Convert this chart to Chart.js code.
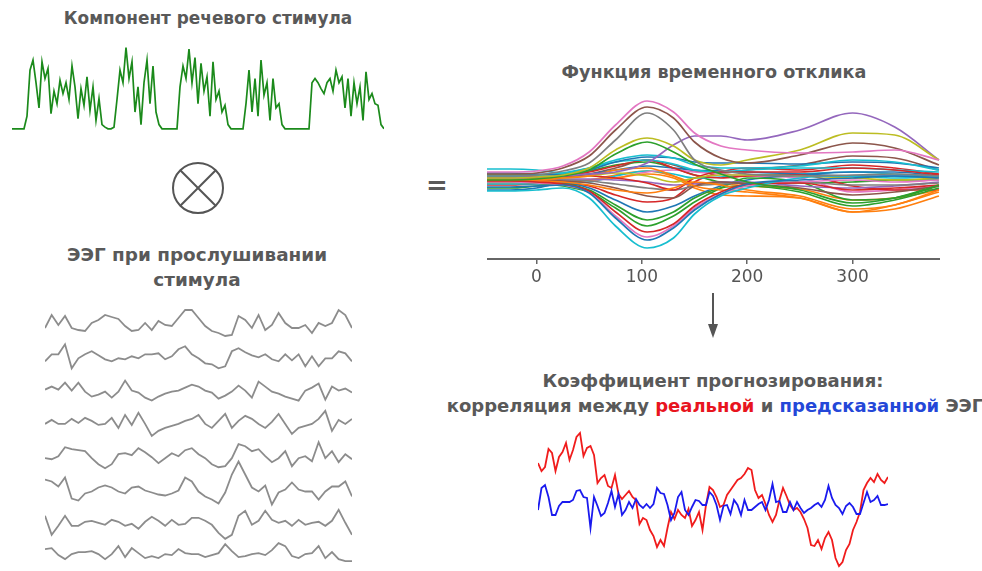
<!DOCTYPE html>
<html>
<head>
<meta charset="utf-8">
<script src="https://cdn.jsdelivr.net/npm/chart.js@4.4.1/dist/chart.umd.min.js"></script>
<style>
  html, body { margin: 0; padding: 0; background: #fff; }
  body { width: 982px; height: 571px; position: relative; overflow: hidden; font-family: "DejaVu Sans", sans-serif; }
  canvas { position: absolute; }
  .t { position: absolute; transform: translate(-50%, -50%); white-space: nowrap; font-weight: bold; color: #595959; font-size: 17.6px; }
  svg { position: absolute; }
</style>
</head>
<body>
<div class="t" style="left:208px;top:18px;font-size:16.9px">Компонент речевого стимула</div>
<div class="t" style="left:197px;top:254px;font-size:18.4px">ЭЭГ при прослушивании</div>
<div class="t" style="left:197px;top:279px;font-size:18.4px">стимула</div>
<div class="t" style="left:714px;top:72px">Функция временного отклика</div>
<div class="t" style="left:713px;top:380px;font-size:18px">Коэффициент прогнозирования:</div>
<div class="t" style="left:715px;top:405px;font-size:18px">корреляция между <span style="color:#e8141e">реальной</span> и <span style="color:#2447d8">предсказанной</span> ЭЭГ</div>
<div class="t" style="left:437px;top:185px;font-size:26px">=</div>

<svg style="left:170px;top:160px" width="56" height="56">
  <circle cx="28" cy="28" r="25" fill="none" stroke="#555" stroke-width="2"/>
  <line x1="10.3" y1="10.3" x2="45.7" y2="45.7" stroke="#555" stroke-width="2"/>
  <line x1="45.7" y1="10.3" x2="10.3" y2="45.7" stroke="#555" stroke-width="2"/>
</svg>
<svg style="left:703px;top:290px" width="20" height="52">
  <line x1="10" y1="3" x2="10" y2="38" stroke="#555" stroke-width="2"/>
  <polygon points="5,34 15,34 10,48" fill="#555"/>
</svg>

<canvas id="stim" width="372" height="88" style="left:12px;top:45px"></canvas>
<canvas id="eeg" width="307" height="276" style="left:45px;top:295px"></canvas>
<canvas id="trf" width="453" height="207" style="left:487px;top:93px"></canvas>
<canvas id="pred" width="350" height="146" style="left:538px;top:425px"></canvas>

<script>
// ---- speech envelope (normalised amplitude per sample) ----
const envelope = [0,0,0,0,0, 0.15,0.7,0.82,0.55,0.25, 0.8,0.6,0.72,0.18,0.45, 0.3,0.58,0.42,0.55,0.35,
  0.75,0.5,0.12,0.48,0.28, 0.62,0.22,0.5,0.1,0.36, 0.05,0.02, 0,0,0.02,
  0.35,0.7,0.55,0.97,0.6, 0.8,0.2,0.5,0.05,0.55, 0.82,0.3,0.75,0.2,0.05,
  0,0,0,0,0,0,
  0.5,0.75,0.6,0.95,0.55, 0.85,0.3,0.78,0.45,0.62, 0.15,0.8,0.35,0.45,0.2, 0.28,0.05,
  0,0,0,0,0,
  0.3,0.7,0.2,0.6,0.15, 0.82,0.4,0.55,0.1,0.6, 0.25,0.3,0.05,
  0,0,0,0,0,0,0,0,0,
  0.55,0.6,0.55,0.48,0.42, 0.55,0.6,0.45,0.7,0.55, 0.62,0.25,0.6,0.15,0.55,
  0.3,0.5,0.1,0.68,0.35, 0.42,0.3,0.28,0.05,0];

// ---- EEG channels (µV, one array per electrode) ----
const eeg1 = [-5,8,-2,7,-5,-7,-8,0,3,8,6,4,-3,-8,-7,0,-7,2,-2,-3,5,13,13,5,-3,-8,-10,-13,-12,7,3,-5,8,-7,-2,10,0,-5,-5,-2,-10,0,-3,0,13,8,-5];
const eeg2 = [-5,2,2,12,-12,-2,2,5,1,-3,-5,-2,-3,0,-2,2,2,3,-3,0,7,10,2,-2,-7,-8,-12,-10,5,8,4,1,-1,2,-3,-5,2,-4,2,-10,0,-10,-2,-2,5,3,-5];
const eeg3 = [0,3,0,7,-1,7,-2,-7,-5,-2,-8,-2,9,-1,-3,-8,-11,-7,-4,-2,-1,2,5,3,-1,-3,-9,-6,-2,4,-1,-8,8,3,-2,-4,-7,-9,-11,-1,2,6,-10,3,-1,1,-3];
const eeg4 = [-1,3,-1,-1,4,0,5,2,-2,-1,5,-5,8,-2,10,-1,-13,-8,-5,-3,-1,2,4,8,-1,-5,2,9,-5,2,7,4,-1,-5,1,9,-1,-11,-5,-3,-1,4,12,-8,3,-1,4];
const eeg5 = [-2,-3,0,9,7,6,5,-2,-8,-12,-8,2,3,1,8,4,-1,-7,-2,3,0,6,8,2,-2,-8,-11,-10,-2,12,10,5,7,0,-6,-2,5,-10,-2,0,-5,14,-2,5,-6,2,-3];
const eeg6 = [10,8,3,12,-9,-11,-4,-2,2,4,2,-2,-4,2,3,-1,-3,-5,-6,-4,-1,12,8,-2,-7,-10,-14,-3,15,28,15,2,-2,4,-15,-3,0,7,0,-2,-2,-10,-2,3,3,8,-7];
const eeg7 = [7,-12,-3,7,-3,-3,1,2,0,-2,3,1,-3,-1,-6,1,6,2,-3,3,-2,-1,5,5,2,-2,-10,-16,-12,7,12,-2,2,12,3,0,2,-3,3,-2,0,1,-3,2,13,0,-12];
const eeg8 = [7,8,1,-3,2,4,4,5,2,-3,2,10,-1,8,3,-2,0,-2,2,1,7,3,2,2,-1,1,3,12,5,-1,0,2,3,1,6,13,10,0,-2,2,3,10,-2,4,-3,-5,-5];
const eegChannels = [eeg1, eeg2, eeg3, eeg4, eeg5, eeg6, eeg7, eeg8];

// ---- temporal response function: lags (ms) and weights per channel ----
const trfLags = [-47,-25,0,25,50,75,105,130,150,175,200,250,300,340,382];
const trfTicks = [0,100,200,300];
const ch01 = [0.8,0.8,0.9,1.4,2.8,5.5,7.9,6.8,4.7,3.4,3.0,2.7,2.8,3.0,2.0];
const ch02 = [0.6,0.6,0.7,1.2,2.4,5.0,7.3,6.2,3.8,2.2,1.7,2.5,3.7,3.2,1.5];
const ch03 = [0.4,0.4,0.5,0.9,1.7,4.0,6.7,5.0,2.0,1.0,0.6,0.4,0.5,0.6,0.4];
const ch04 = [0.2,0.2,0.3,0.5,1.2,3.0,4.2,3.4,2.0,1.5,2.0,3.0,4.7,4.5,2.0];
const ch05 = [0,0,0.1,0.4,1.0,2.6,3.8,2.8,1.6,0.6,-0.2,-1.0,-2.3,-1.8,-0.5];
const ch06 = [0.2,0.2,0.3,0.4,0.6,0.8,1.7,3.5,4.4,4.4,4.0,5.0,6.7,5.3,2.0];
const ch07 = [-0.7,-0.7,-0.6,-0.5,-1.3,-3.8,-6.0,-4.8,-3.0,-1.4,-0.4,0,0.2,0.4,0.2];
const ch08 = [-1.1,-1.1,-1.0,-0.8,-1.8,-4.6,-6.8,-5.8,-3.4,-1.6,-0.8,0.2,0.4,0.2,0.4];
const ch09 = [-0.1,-0.1,-0.2,-0.4,-1.1,-3.2,-5.2,-4.4,-2.6,-1.2,-0.4,-0.3,-1.0,-0.8,-0.5];
const ch10 = [-0.2,-0.2,-0.3,-0.5,-1.2,-3.6,-5.7,-4.6,-2.8,-1.4,-0.6,-0.2,0,-0.2,0];
const ch11 = [0,0,0,0.2,0.4,1.0,1.2,0.4,-0.6,-1.0,-1.2,-1.8,-3.2,-2.5,-1.2];
const ch12 = [-0.1,-0.1,-0.1,-0.2,-0.5,-1.0,-1.3,-0.8,-0.2,-0.5,-1.0,-1.6,-2.9,-2.5,-1.0];
const ch13 = [0.1,0.1,0.1,0.2,0.4,0.7,0.4,-0.2,0.2,0.5,0.5,0.4,0.2,0,0.2];
const ch14 = [-0.8,-0.8,-0.6,-0.4,-1.0,-2.5,-4.0,-3.2,-1.8,-0.8,-0.6,-1.2,-2.6,-2.0,-0.8];
const ch15 = [1.1,1.1,1.0,0.7,1.2,2.0,2.5,2.2,1.5,1.2,1.2,1.4,2.0,1.8,1.0];
const ch16 = [0.7,0.7,0.6,0.5,1.0,1.8,2.3,2.2,1.8,1.7,1.7,1.6,1.8,1.7,1.2];
const ch17 = [0.1,0.1,0.2,0.3,0.4,0.2,-0.3,-1.0,0.2,0.8,0.8,0.8,1.2,1.0,0.5];
const ch18 = [0,0,0,-0.1,-0.3,-0.8,-1.6,-1.8,-0.6,-0.2,-0.4,-0.8,-1.5,-1.2,-0.6];
const ch19 = [0,0,0,0,-0.1,-0.4,-0.8,-1.0,-0.6,-0.4,-0.3,-0.2,-0.5,-0.5,-0.3];
const ch20 = [0.1,0.1,0.1,0.1,0.1,0,-0.2,-0.5,-0.4,-0.2,-0.2,-0.6,-0.8,-0.6,-0.2];
const ch21 = [0.4,0.4,0.5,0.7,1.2,1.8,2.0,1.6,1.0,0.8,1.0,1.2,1.2,1.0,0.8];
const ch22 = [-0.2,-0.2,-0.3,-0.6,-1.2,-2.8,-4.6,-3.6,-2.2,-0.8,0.2,-0.2,-2.0,-1.8,-0.6];
const ch23 = [0.2,0.2,0.3,0.4,0.8,1.4,2.0,1.2,0.5,0.2,0.4,0.5,-0.6,-1.0,-1.0];
const ch24 = [-1.0,-1.0,-0.8,-0.3,-0.8,-2.0,-3.2,-2.6,-1.6,-0.6,0,0.5,0.8,0.8,0.4];
const ch25 = [-0.2,-0.2,-0.2,-0.2,0,0.2,0.6,0.2,-0.8,-1.5,-1.6,-1.8,-3.2,-2.9,-1.6];
const ch26 = [0,0,0,0,0,0.2,0.8,1.0,0.8,0.6,0.4,0.2,-1.2,-1.0,-0.6];
const ch27 = [0.3,0.3,0.3,0.4,0.6,1.0,1.4,1.2,1.0,0.9,0.8,0.6,0.4,0.4,0.3];
const ch28 = [-0.4,-0.4,-0.4,-0.3,-0.2,0.4,0.9,0.6,0.2,0.3,0.5,0.6,0.8,0.6,0.3];
const ch29 = [0.5,0.5,0.5,0.6,0.9,1.5,1.8,1.2,0.5,-0.2,-0.3,-0.3,-0.2,0,0];
const ch30 = [-0.5,-0.5,-0.4,-0.4,-0.6,-1.5,-2.2,-1.8,-0.2,0.8,1.2,1.0,1.5,1.2,0.6];
const ch31 = [0.2,0.2,0.2,0.3,0.6,1.2,2.0,1.5,0.9,0.7,1.0,1.5,2.4,2.2,1.0];
const ch32 = [-0.3,-0.3,-0.3,-0.2,0,0.5,0.9,0.4,-0.3,-0.4,-0.6,-0.9,-2.0,-1.8,-1.0];
const trfChannels = [ch01,ch02,ch03,ch04,ch05,ch06,ch07,ch08,ch09,ch10,ch11,ch12,ch13,ch14,ch15,ch16,
                     ch17,ch18,ch19,ch20,ch21,ch22,ch23,ch24,ch25,ch26,ch27,ch28,ch29,ch30,ch31,ch32];
const trfColors = ['#e377c2','#8c564b','#7f7f7f','#bcbd22','#2ca02c','#9467bd','#1f77b4','#17becf',
                   '#d62728','#e377c2','#ff7f0e','#ff7f0e','#bcbd22','#2ca02c','#17becf','#1f77b4',
                   '#d62728','#8c564b','#7f7f7f','#9467bd','#17becf','#2ca02c','#d62728','#1f77b4',
                   '#ff7f0e','#e377c2','#1f77b4','#17becf','#2ca02c','#d62728','#8c564b','#ff7f0e'];

// ---- recorded vs. predicted EEG ----
const realEEG = [42,34,38,56,52,34,48,53,62,45, 55,68,72,49,57,59,50,22,27,30,
  19,17,30,11,6,10,14,8,5,-19, -13,-15,-25,-31,-42,-35,-41,-23,-7,-14,
  -5,-10,-13,-4,-21,-15,-7,-25,0,18, 15,8,-2,0,10,15,20,25,27,31,
  37,35,15,7,10,1,-10,-17,-10,5, 17,9,0,-5,-3,-7,-14,-23,-40,-41,
  -35,-44,-33,-27,-35,-53,-61,-57,-45,-39, -25,-17,-7,15,22,27,23,31,25,22, 28];
const predictedEEG = [-5,17,20,8,-10,-10,-1,3,3,3, 5,14,15,8,7,-23,8,-1,-11,-8,
  2,14,-2,11,-10,-5,3,-3,6,0, -3,1,-3,1,17,12,11,0,-15,-8,
  8,13,-5,-10,-2,5,4,0,0,13, 9,0,-15,-1,0,-9,5,0,-10,5,
  -5,-5,-2,1,3,-5,5,21,3,4, -7,-7,3,-5,3,-3,-8,-5,-3,0,
  2,-2,5,19,7,0,-3,-9,-1,2, -2,-9,-9,2,13,3,5,9,0,0, 1];

Chart.defaults.font.family = '"DejaVu Sans", sans-serif';

function baseOptions(xMin, xMax, yMin, yMax) {
  return {
    responsive: false, animation: false, events: [],
    layout: { padding: 0 },
    plugins: { legend: { display: false }, tooltip: { enabled: false } },
    elements: { point: { radius: 0 }, line: { tension: 0 } },
    scales: {
      x: { type: 'linear', display: false, min: xMin, max: xMax },
      y: { type: 'linear', display: false, min: yMin, max: yMax }
    }
  };
}
const indexed = arr => arr.map((v, i) => ({ x: i, y: v }));

// speech envelope
new Chart(document.getElementById('stim'), {
  type: 'line',
  data: { datasets: [{ data: indexed(envelope), borderColor: '#1b8a1b', borderWidth: 1.7 }] },
  options: baseOptions(0, envelope.length - 1, -0.05, 1.0)
});

// stacked EEG channels
const eegSpacing = 33.3;
new Chart(document.getElementById('eeg'), {
  type: 'line',
  data: {
    datasets: eegChannels.map((ch, k) => ({
      data: ch.map((v, i) => ({ x: i, y: v - eegSpacing * k })),
      borderColor: 'rgba(120,120,120,0.85)', borderWidth: 1.8
    }))
  },
  options: baseOptions(0, eeg1.length - 1, -248, 28)
});

// temporal response functions
const trfOpts = baseOptions(-47, 383, -7.9, 8.7);
trfOpts.elements.line.cubicInterpolationMode = 'monotone';
trfOpts.scales.x = {
  type: 'linear', display: true, min: -47, max: 383,
  afterBuildTicks: s => { s.ticks = trfTicks.map(v => ({ value: v })); },
  afterFit: s => { s.height = 41; },
  grid: { drawOnChartArea: false, drawTicks: true, tickLength: 5, color: '#666', lineWidth: 1.5 },
  border: { display: true, color: '#666', width: 2 },
  ticks: { color: '#555', font: { size: 17 }, padding: 3, autoSkip: false, maxRotation: 0 }
};
new Chart(document.getElementById('trf'), {
  type: 'line',
  data: {
    datasets: trfChannels.map((ch, k) => ({
      data: ch.map((v, i) => ({ x: trfLags[i], y: v })),
      borderColor: trfColors[k], borderWidth: 1.7
    }))
  },
  options: trfOpts
});

// recorded vs predicted
new Chart(document.getElementById('pred'), {
  type: 'line',
  data: {
    datasets: [
      { data: indexed(predictedEEG), borderColor: '#1a1aee', borderWidth: 1.8, order: 0 },
      { data: indexed(realEEG), borderColor: '#f01c1c', borderWidth: 1.8, order: 1 }
    ]
  },
  options: baseOptions(0, realEEG.length - 1, -66, 80)
});
</script>
</body>
</html>
